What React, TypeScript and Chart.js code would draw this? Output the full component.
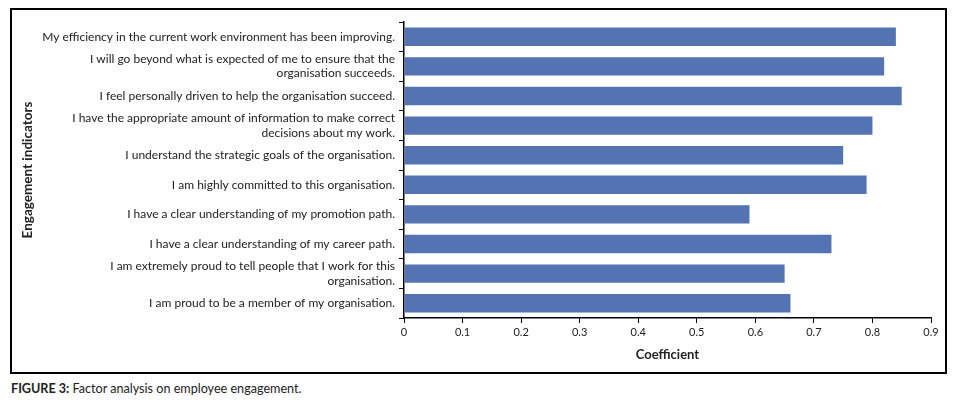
import { useEffect, useRef } from "react";
import { Chart, registerables } from "chart.js";

Chart.register(...registerables);

const indicators: (string | string[])[] = [
  "My efficiency in the current work environment has been improving.",
  ["I will go beyond what is expected of me to ensure that the", "organisation succeeds."],
  "I feel personally driven to help the organisation succeed.",
  ["I have the appropriate amount of information to make correct", "decisions about my work."],
  "I understand the strategic goals of the organisation.",
  "I am highly committed to this organisation.",
  "I have a clear understanding of my promotion path.",
  "I have a clear understanding of my career path.",
  ["I am extremely proud to tell people that I work for this", "organisation."],
  "I am proud to be a member of my organisation.",
];

const coefficients = [0.84, 0.82, 0.85, 0.8, 0.75, 0.79, 0.59, 0.73, 0.65, 0.66];

const FONT = "Lato, 'Open Sans', sans-serif";
const TEXT = "#222";

export default function App() {
  const canvasRef = useRef<HTMLCanvasElement>(null);
  const chartRef = useRef<Chart | null>(null);

  useEffect(() => {
    if (!canvasRef.current) return;
    if (chartRef.current) chartRef.current.destroy();

    chartRef.current = new Chart(canvasRef.current, {
      type: "bar",
      data: {
        labels: indicators,
        datasets: [
          {
            data: coefficients,
            backgroundColor: "#5473B2",
            barPercentage: 0.62,
            categoryPercentage: 1,
          },
        ],
      },
      options: {
        indexAxis: "y",
        animation: false,
        responsive: false,
        maintainAspectRatio: false,
        layout: { padding: { left: 4, right: 14, top: 12, bottom: 0 } },
        plugins: {
          legend: { display: false },
          tooltip: { enabled: false },
        },
        scales: {
          x: {
            min: 0,
            max: 0.9,
            ticks: {
              stepSize: 0.1,
              color: TEXT,
              padding: 3,
              font: { family: FONT, size: 11 },
            },
            grid: {
              drawOnChartArea: false,
              tickLength: 5,
              color: "#000",
            },
            border: { color: "#000", width: 1.5 },
            title: {
              display: true,
              text: "Coefficient",
              color: TEXT,
              font: { family: FONT, size: 13, weight: "bold" },
              padding: { top: 4, bottom: 9 },
            },
            afterFit: (scale: any) => {
              scale.height = 54;
            },
          },
          y: {
            ticks: {
              autoSkip: false,
              color: TEXT,
              padding: 4,
              font: { family: FONT, size: 12 },
            },
            grid: {
              drawOnChartArea: false,
              tickLength: 5,
              color: "#000",
              offset: true,
            },
            border: { color: "#000", width: 1.5 },
            title: {
              display: true,
              text: "Engagement indicators",
              color: TEXT,
              font: { family: FONT, size: 13.5, weight: "bold" },
            },
            afterFit: (scale: any) => {
              scale.width = 388;
              scale.paddingTop = 0;
              scale.paddingBottom = 0;
            },
          },
        },
      },
    });

    return () => {
      if (chartRef.current) {
        chartRef.current.destroy();
        chartRef.current = null;
      }
    };
  }, []);

  return (
    <div style={{ fontFamily: FONT }}>
      <div
        style={{
          marginLeft: 2,
          width: 937,
          height: 366,
          border: "2px solid #000",
          boxSizing: "border-box",
        }}
      >
        <canvas ref={canvasRef} width={933} height={362} style={{ display: "block" }} />
      </div>
      <div style={{ marginLeft: 3, marginTop: 7, fontSize: 12.6, color: TEXT }}>
        <b>FIGURE 3:</b> Factor analysis on employee engagement.
      </div>
    </div>
  );
}
